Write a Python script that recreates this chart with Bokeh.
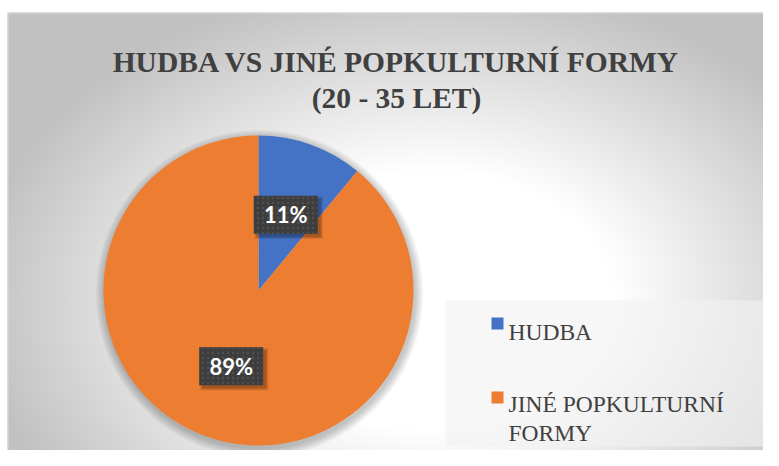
import numpy as np
from bokeh.plotting import figure
from bokeh.models import Range1d
from bokeh.core.properties import value
from bokeh.embed import file_html
from bokeh.resources import INLINE

# ---- data ----
categories = ["HUDBA", "JINÉ POPKULTURNÍ FORMY"]
legend_lines = [["HUDBA"], ["JINÉ POPKULTURNÍ", "FORMY"]]
values = [11, 89]
colors = ["#4472C4", "#ED7D31"]
title_lines = ["HUDBA VS JINÉ POPKULTURNÍ FORMY", "(20 - 35 LET)"]

# ---- layout helpers (reference pixel -> data) ----
W, H = 763, 450


def px(x):
    return x


def py(y):
    return H - y


p = figure(width=W, height=H, x_range=Range1d(0, W), y_range=Range1d(0, H),
           output_backend="svg", toolbar_location=None, min_border=0,
           x_axis_type=None, y_axis_type=None)
p.grid.visible = False
p.outline_line_color = None
p.background_fill_color = "white"
p.border_fill_color = "white"

# ---- background radial gradient (chart area frame) ----
left_frame, top_frame = 7, 12
fw = W - left_frame
fh = H - top_frame
xs = np.arange(fw) + 0.5 + left_frame
ys = np.arange(fh) + 0.5
X, Y = np.meshgrid(xs, ys)
PX = X
PY = H - Y
gcx, gcy = 430, 300
d = np.sqrt(((PX - gcx) / 440.0) ** 2 + ((PY - gcy) / 310.0) ** 2)
s = np.clip((d - 0.42) / 0.62, 0, 1)
g = (255 - 62 * s).astype(np.uint8)
img = np.empty((fh, fw), dtype=np.uint32)
view = img.view(dtype=np.uint8).reshape((fh, fw, 4))
view[..., 0] = g
view[..., 1] = g
view[..., 2] = g
view[..., 3] = 255
p.image_rgba(image=[img], x=left_frame, y=0, dw=fw, dh=fh)
p.line(x=[left_frame, W], y=[fh - 0.5, fh - 0.5], line_color="#d9d9d9", line_width=1)
p.line(x=[left_frame + 0.5, left_frame + 0.5], y=[0, fh], line_color="#d9d9d9", line_width=1)

# ---- title ----
title_base = [61, 97]
for line, b in zip(title_lines, title_base):
    p.text(x=[px(396)], y=[py(b)], text=[line], text_align="center",
           text_baseline="alphabetic", text_font=value("Liberation Serif"),
           text_font_style="bold", text_font_size="29.5px", text_color="#404040")

# ---- pie ----
cx, cy, R = px(258), py(290), 155
total = float(sum(values))
fracs = [v / total for v in values]
starts, ends, mids = [], [], []
a = np.pi / 2
for f in fracs:
    starts.append(a)
    ends.append(a - 2 * np.pi * f)
    mids.append(a - np.pi * f)
    a -= 2 * np.pi * f

# soft shadow
for k in range(1, 11):
    p.circle(x=[cx + 1], y=[cy - 3], radius=R + k * 0.9, fill_color="black",
             fill_alpha=0.022, line_color=None)

p.wedge(x=cx, y=cy, radius=R, start_angle=starts, end_angle=ends,
        direction="clock", fill_color=colors, line_color=None)

# ---- data labels ----
lab_r = 0.52 * R
lx = [cx + lab_r * np.cos(m) for m in mids]
ly = [cy + lab_r * np.sin(m) for m in mids]
labels = [f"{round(100 * f)}%" for f in fracs]
for k in range(3):
    p.rect(x=[x + 3 for x in lx], y=[y - 3 for y in ly], width=64 + 2 * k, height=38 + 2 * k,
           width_units="screen", height_units="screen", fill_color="black",
           fill_alpha=0.11, line_color=None)
p.rect(x=lx, y=ly, width=64, height=38, width_units="screen", height_units="screen",
       fill_color="#3d3d3d", line_color=None, hatch_pattern="dot", hatch_color="#4f4f4f",
       hatch_scale=5, hatch_weight=1)
p.text(x=lx, y=ly, text=labels, text_align="center", text_baseline="middle",
       text_font=value("Lato"), text_font_style="bold", text_font_size="22px",
       text_color="white")

# ---- legend ----
p.rect(x=[(px(445) + W) / 2], y=[(py(300) + py(446)) / 2], width=W - px(445),
       height=py(300) - py(446), fill_color="#f2f2f2", fill_alpha=0.6, line_color=None)
sq_centers = [323, 397]
first_base = [331, 403]
line_gap = 29
for i, cat in enumerate(categories):
    p.rect(x=[px(497)], y=[py(sq_centers[i])], width=12, height=12,
           fill_color=colors[i], line_color=None)
    for j, ln in enumerate(legend_lines[i]):
        p.text(x=[px(508)], y=[py(first_base[i] + j * line_gap)], text=[ln],
               text_align="left", text_baseline="alphabetic",
               text_font=value("Liberation Serif"), text_font_size="23.5px",
               text_color="#404040")

open("out.html", "w").write(file_html(p, INLINE))
